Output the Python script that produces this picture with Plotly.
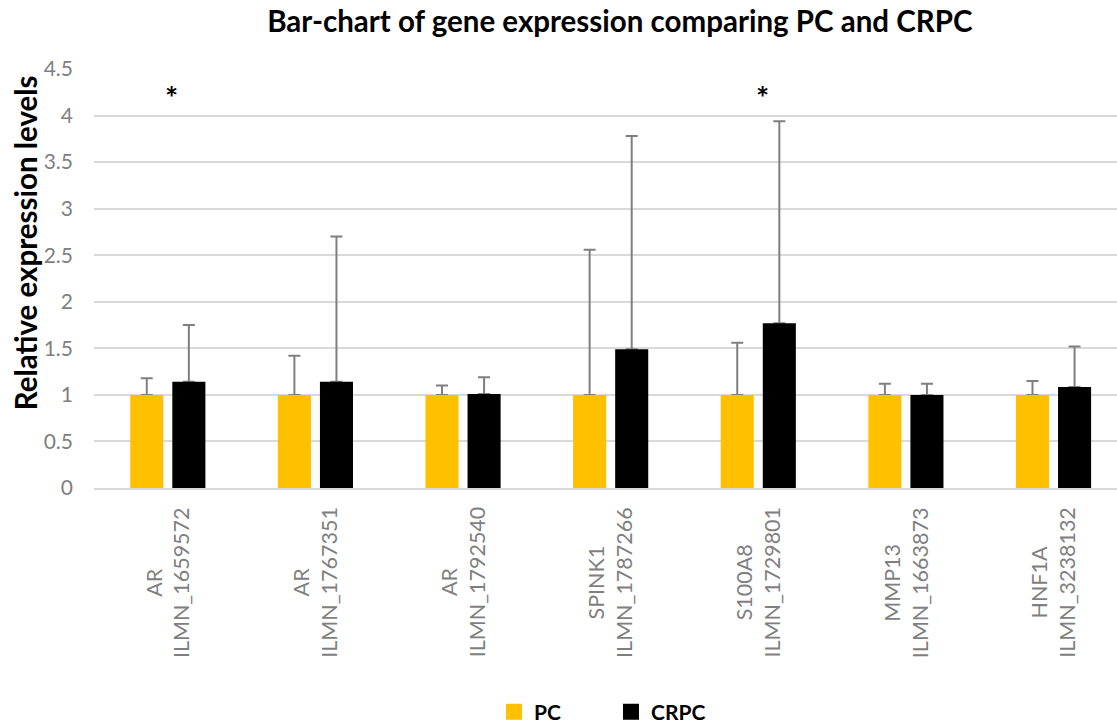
import plotly.graph_objects as go

genes = ["AR", "AR", "AR", "SPINK1", "S100A8", "MMP13", "HNF1A"]
probes = ["ILMN_1659572", "ILMN_1767351", "ILMN_1792540", "ILMN_1787266",
          "ILMN_1729801", "ILMN_1663873", "ILMN_3238132"]
categories = [f"{g}<br>{p}" for g, p in zip(genes, probes)]

pc_values = [1.0, 1.0, 1.0, 1.0, 1.0, 1.0, 1.0]
pc_err = [0.18, 0.42, 0.10, 1.56, 0.56, 0.12, 0.15]
crpc_values = [1.14, 1.14, 1.01, 1.49, 1.77, 1.0, 1.085]
crpc_err = [0.61, 1.56, 0.18, 2.29, 2.17, 0.12, 0.435]

significant = [True, False, False, False, True, False, False]
star_level = 4.2

PC_COLOR = "#FFC000"
CRPC_COLOR = "#000000"
GRAY = "#7f7f7f"
FONT = "Lato"

fig = go.Figure()

# error bars (drawn underneath the bars, on the base subplot)
for vals, errs in [(pc_values, pc_err), (crpc_values, crpc_err)]:
    fig.add_trace(go.Bar(
        x=categories, y=vals, xaxis="x", yaxis="y",
        marker=dict(color="rgba(0,0,0,0)", line=dict(width=0)),
        error_y=dict(type="data", symmetric=False, array=errs,
                     arrayminus=[0] * len(errs), color=GRAY,
                     thickness=2, width=6),
        showlegend=False, hoverinfo="skip",
    ))

# visible bars on an overlaid y-axis so they cover the lower caps
fig.add_trace(go.Bar(x=categories, y=pc_values, name="PC", xaxis="x", yaxis="y2",
                     marker=dict(color=PC_COLOR, line=dict(width=0)), showlegend=False))
fig.add_trace(go.Bar(x=categories, y=crpc_values, name="CRPC", xaxis="x", yaxis="y2",
                     marker=dict(color=CRPC_COLOR, line=dict(width=0)), showlegend=False))

# legend entries with larger square symbols
for name, col in [("PC", PC_COLOR), ("CRPC", CRPC_COLOR)]:
    fig.add_trace(go.Scatter(x=[None], y=[None], mode="markers", name=name,
                             marker=dict(symbol="square", size=19, color=col)))

annotations = []
for cat in categories:
    annotations.append(dict(
        x=cat, xref="x", y=-0.04, yref="paper", text=cat,
        textangle=-90, showarrow=False, xanchor="center", yanchor="top",
        align="center", font=dict(family=FONT, size=21.5, color=GRAY),
    ))
for cat, sig in zip(categories, significant):
    if sig:
        annotations.append(dict(
            x=cat, xref="x", y=star_level, yref="y", text="<b>*</b>",
            showarrow=False, xshift=4, xanchor="center", yanchor="middle",
            font=dict(family=FONT, size=31, color="#000000"),
        ))
annotations.append(dict(
    x=-0.067, xref="paper", y=0.585, yref="paper",
    text="<b>Relative expression levels</b>", textangle=-90, showarrow=False,
    xanchor="center", yanchor="middle",
    font=dict(family=FONT, size=29.5, color="#000000"),
))

fig.update_layout(
    width=1117, height=725,
    margin=dict(l=94, r=0, t=69, b=237, autoexpand=False),
    paper_bgcolor="white", plot_bgcolor="white",
    barmode="group", bargap=0.43, bargroupgap=0.214,
    title=dict(text="<b>Bar-chart of gene expression comparing PC and CRPC</b>",
               x=0.514, xref="paper", xanchor="center",
               y=1 - 22 / 725, yref="container", yanchor="middle",
               font=dict(family=FONT, size=29.5, color="#000000")),
    xaxis=dict(categoryorder="array", categoryarray=categories,
               range=[-0.5, 6.43], showticklabels=False, showgrid=False,
               showline=True, linecolor="#d9d9d9", linewidth=1.5, ticks=""),
    yaxis=dict(range=[0, 4.5], tickvals=[0, 0.5, 1, 1.5, 2, 2.5, 3, 3.5, 4, 4.5],
               ticktext=["0", "0.5", "1", "1.5", "2", "2.5", "3", "3.5", "4", "4.5"],
               showgrid=True, gridcolor="#d9d9d9", gridwidth=1.5, zeroline=False,
               ticks="", ticklabelstandoff=20,
               tickfont=dict(family=FONT, size=21, color=GRAY)),
    yaxis2=dict(range=[0, 4.5], overlaying="y", visible=False, showgrid=False),
    legend=dict(orientation="h", x=0.391, xanchor="left", y=-0.5346, yanchor="middle",
                entrywidth=72, font=dict(family=FONT, size=21, color="#000000"),
                bgcolor="rgba(0,0,0,0)"),
    annotations=annotations,
)
fig.update_layout(legend_font_weight="bold")

fig.write_html("out.html")
